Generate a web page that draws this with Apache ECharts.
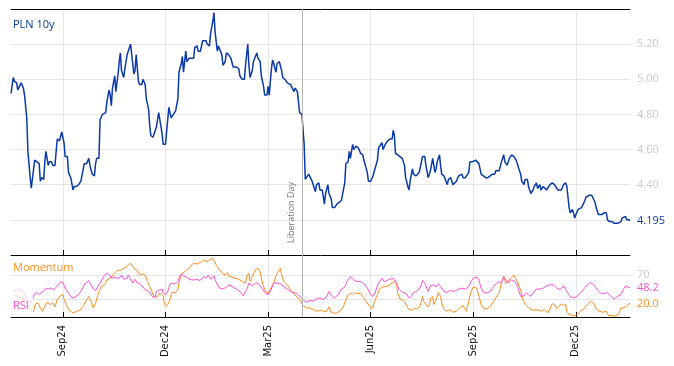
<!DOCTYPE html>
<html><head><meta charset="utf-8">
<script src="https://cdn.jsdelivr.net/npm/echarts@6/dist/echarts.min.js"></script>
<style>html,body{margin:0;padding:0;background:#fff}#c{width:674px;height:366px}</style>
</head><body><div id="c"></div>
<script>
// ---- data (day offsets from startDate) ----
const startDate = '2024-07-18';
const endDay = 549;
const plnDays = [0,2,3,5,6,9,11,12,14,15,17,18,19,21,23,25,26,27,29,30,31,33,34,36,37,39,41,43,44,45,47,48,50,51,53,55,56,58,60,62,63,65,67,69,70,72,74,75,76,78,79,81,82,84,85,87,88,89,90,92,93,95,96,97,98,100,101,103,104,106,107,109,110,111,113,114,116,117,119,120,122,123,124,126,127,129,131,132,134,135,137,138,140,142,144,146,148,149,151,152,153,155,156,158,160,162,163,165,166,168,170,171,173,174,176,177,179,180,181,183,184,185,187,188,190,191,193,195,197,198,200,202,203,205,207,208,210,211,212,214,215,216,218,219,221,222,224,225,227,228,229,231,232,233,235,236,238,240,241,243,244,245,248,249,251,252,254,255,256,258,260,261,262,264,265,267,268,270,271,273,274,276,278,279,281,282,284,285,287,289,291,293,294,296,297,299,300,301,303,304,306,308,310,312,313,316,317,319,321,322,325,326,327,329,330,332,334,336,338,339,340,341,343,345,347,349,350,352,353,354,356,357,359,360,362,364,365,367,368,370,371,372,374,375,376,377,378,380,381,382,384,385,387,388,390,392,393,395,397,398,400,401,403,404,406,407,409,412,413,415,417,419,421,423,425,427,429,430,431,433,435,437,438,440,442,444,446,448,450,452,453,455,456,458,459,461,462,463,464,466,467,469,470,472,473,475,476,478,480,482,483,485,486,488,490,492,493,494,495,496,498,499,500,501,503,504,506,507,509,510,511,513,515,516,518,519,521,522,524,526,528,529,531,533,535,536,538,539,541,542,543,545,546,548,549];
const plnValues = [4.92,5.01,4.99,4.98,4.94,4.98,4.95,4.91,4.78,4.59,4.44,4.38,4.38,4.54,4.53,4.52,4.42,4.44,4.43,4.53,4.59,4.51,4.53,4.53,4.51,4.51,4.66,4.65,4.64,4.70,4.64,4.56,4.56,4.47,4.44,4.37,4.39,4.39,4.40,4.42,4.43,4.52,4.52,4.55,4.51,4.46,4.45,4.52,4.55,4.55,4.77,4.80,4.79,4.81,4.87,4.94,4.91,4.85,4.95,5.02,4.93,5.03,5.10,5.15,5.05,5.01,5.06,5.14,5.14,5.20,5.20,5.03,5.05,5.14,4.99,4.97,4.97,5.00,4.97,4.89,4.83,4.74,4.68,4.67,4.69,4.73,4.81,4.77,4.69,4.63,4.63,4.64,4.84,4.78,4.80,4.82,4.89,5.04,5.09,5.13,5.04,5.16,5.10,5.12,5.12,5.12,5.18,5.19,5.16,5.16,5.22,5.22,5.22,5.20,5.19,5.26,5.33,5.38,5.27,5.16,5.19,5.20,5.14,5.08,5.10,5.15,5.14,5.12,5.07,5.06,5.07,5.06,5.02,5.00,5.00,5.08,5.20,5.08,5.01,5.05,5.10,5.11,5.15,5.12,5.10,5.02,4.96,4.91,4.91,4.96,4.91,5.06,5.11,5.09,5.04,5.09,5.10,5.05,5.01,5.00,5.01,4.98,4.97,4.96,4.93,4.95,4.93,4.87,4.81,4.80,4.63,4.43,4.44,4.46,4.45,4.42,4.40,4.36,4.40,4.41,4.37,4.37,4.29,4.35,4.40,4.35,4.32,4.27,4.27,4.29,4.30,4.31,4.31,4.41,4.52,4.53,4.59,4.55,4.63,4.60,4.62,4.61,4.58,4.57,4.54,4.47,4.42,4.42,4.45,4.46,4.54,4.61,4.61,4.64,4.60,4.63,4.65,4.66,4.66,4.71,4.68,4.58,4.57,4.56,4.55,4.51,4.44,4.39,4.37,4.42,4.49,4.46,4.45,4.45,4.47,4.53,4.56,4.56,4.51,4.44,4.43,4.48,4.55,4.51,4.47,4.49,4.53,4.57,4.51,4.46,4.45,4.44,4.40,4.43,4.44,4.40,4.41,4.42,4.45,4.45,4.46,4.44,4.44,4.43,4.47,4.53,4.53,4.54,4.54,4.52,4.46,4.45,4.44,4.44,4.45,4.46,4.46,4.48,4.47,4.48,4.53,4.57,4.53,4.51,4.55,4.57,4.56,4.54,4.50,4.46,4.42,4.40,4.43,4.43,4.39,4.35,4.34,4.37,4.39,4.41,4.38,4.40,4.37,4.39,4.38,4.37,4.37,4.40,4.41,4.40,4.40,4.37,4.37,4.37,4.40,4.41,4.39,4.33,4.27,4.24,4.26,4.26,4.21,4.23,4.26,4.26,4.27,4.28,4.31,4.33,4.34,4.34,4.34,4.33,4.30,4.27,4.23,4.22,4.23,4.24,4.24,4.20,4.19,4.19,4.18,4.18,4.18,4.17,4.19,4.21,4.20,4.22,4.20,4.20,4.195];

const rsiDays = [2,4,6,9,11,13,15,17,19,21,23,25,27,29,31,33,35,38,40,42,44,46,48,51,54,57,60,63,66,69,71,73,75,77,80,82,84,86,88,89,91,94,96,98,100,103,104,106,108,110,112,114,117,119,121,123,126,128,129,132,134,135,137,139,141,143,146,148,149,151,153,156,158,160,163,165,167,169,171,173,175,177,180,181,183,185,188,191,194,197,200,203,206,209,211,214,217,219,222,225,228,230,233,236,239,242,245,248,250,253,256,259,262,265,268,271,274,277,280,282,285,287,290,293,296,298,301,304,307,310,313,316,319,321,323,326,329,331,333,336,339,342,344,347,350,353,355,357,360,363,365,367,370,372,375,377,379,381,384,387,390,393,397,400,403,406,408,410,413,415,417,419,422,425,428,431,433,435,437,439,441,443,446,448,450,452,455,457,459,461,463,466,469,472,475,478,481,484,487,490,493,496,499,502,505,508,511,514,517,520,523,526,529,532,535,538,541,543,545,547,549];
const rsiValues = [42.4,45.2,44.1,46.4,42.4,34.2,26.0,23.4,28.8,38.7,40.8,37.0,40.8,42.4,48.0,46.4,48.0,45.2,49.7,53.5,58.9,57.2,48.0,39.8,31.6,33.2,37.0,45.2,56.3,60.5,53.5,46.4,44.1,50.7,58.9,67.1,71.5,72.7,68.3,64.5,66.1,64.5,64.5,69.9,62.8,64.5,69.9,62.8,56.3,62.8,56.3,56.3,49.7,45.2,44.1,39.8,32.6,34.2,42.4,45.2,46.4,39.8,37.0,42.4,54.6,56.3,55.1,58.9,64.5,71.5,68.3,66.1,62.8,61.7,61.7,62.8,60.5,62.8,67.1,64.5,69.9,62.8,68.3,61.7,53.5,48.0,46.4,49.7,53.5,49.7,46.4,42.4,35.4,45.2,56.3,51.8,56.3,56.3,49.7,40.8,37.0,42.4,56.3,56.3,55.1,50.7,46.4,42.4,40.8,39.8,34.2,28.8,24.3,27.6,26.0,29.9,31.6,28.8,34.2,42.4,34.2,31.6,37.0,46.4,49.7,58.9,67.1,61.7,58.9,58.9,55.1,48.0,37.0,34.2,40.8,56.3,64.5,58.9,60.5,62.8,64.5,56.3,46.4,40.8,39.8,31.6,34.2,40.8,42.4,49.7,60.5,56.3,42.4,51.8,53.5,49.7,55.1,50.7,42.4,40.8,44.1,42.4,46.4,48.0,46.4,50.7,58.9,64.5,66.1,61.7,48.0,40.8,39.8,42.4,50.7,56.3,58.9,56.3,67.1,61.7,56.3,61.7,60.5,56.3,46.4,34.2,35.4,39.8,37.0,34.2,39.8,46.4,46.4,48.0,51.8,53.5,53.5,48.0,45.2,51.8,42.4,34.2,31.6,34.2,39.8,46.4,53.5,57.2,53.5,45.2,39.8,38.7,40.8,34.2,29.9,34.2,37.0,45.2,51.8,49.7,48.2];

const momDays = [2,5,8,11,14,17,20,21,23,25,26,28,30,32,35,37,39,41,43,46,47,49,51,54,56,58,61,64,67,69,71,73,75,78,80,83,85,88,91,93,95,97,100,102,104,106,108,110,112,114,117,119,121,123,126,128,130,132,135,136,138,140,142,143,146,148,149,151,154,156,158,160,162,165,167,169,171,174,176,178,180,182,184,185,188,190,192,193,196,199,202,205,208,209,211,212,214,215,217,219,221,223,225,228,230,233,235,237,239,240,242,245,248,250,253,256,259,262,265,268,271,274,277,280,282,284,286,288,290,293,295,297,299,301,303,305,307,310,312,315,318,320,322,325,327,329,332,335,338,340,342,343,345,347,349,351,353,356,358,360,363,365,366,369,371,372,374,375,377,379,381,382,384,386,389,392,395,398,401,404,406,408,410,413,415,417,419,422,425,428,431,433,435,437,439,441,443,446,447,449,452,454,457,460,464,467,470,473,476,478,480,482,484,486,488,490,492,493,495,498,501,503,505,508,511,514,515,517,519,522,525,528,530,533,536,539,541,543,546,548,549];
const momValues = [34.2,37.0,28.8,31.6,23.4,12.3,9.5,18.9,23.4,20.6,15.1,9.5,17.8,24.3,20.6,23.4,16.8,28.8,34.2,37.0,29.9,20.6,12.3,7.9,6.9,9.5,11.2,17.8,28.8,34.2,26.0,15.1,23.4,42.4,50.7,53.5,61.7,64.5,71.5,75.3,78.1,77.0,80.9,82.6,86.3,89.1,84.7,79.3,77.0,69.9,71.5,69.9,58.9,50.7,37.0,31.6,34.2,39.8,34.2,20.6,17.8,23.4,37.0,40.8,40.8,45.2,56.3,71.5,75.3,78.1,80.9,86.3,89.1,88.0,90.1,91.8,94.6,91.8,94.6,97.4,94.6,86.3,80.9,80.9,71.5,69.9,73.7,68.3,66.1,64.5,62.8,58.9,56.3,67.1,72.7,58.9,67.1,69.9,79.3,80.9,75.3,56.3,45.2,38.2,46.4,56.3,68.3,75.3,80.9,69.9,58.9,53.5,45.2,39.8,34.2,28.8,18.9,15.1,15.1,12.3,9.5,11.2,9.5,9.5,16.8,7.9,6.9,5.8,7.9,12.3,17.8,28.8,37.0,39.8,37.0,40.8,38.7,39.8,34.2,26.0,17.8,13.5,23.4,37.0,46.4,49.7,50.7,51.8,56.3,58.9,56.3,39.8,29.9,28.8,26.0,17.8,12.3,11.2,15.1,13.5,18.9,34.2,26.0,17.8,18.9,29.9,34.2,20.6,28.8,40.8,34.2,23.4,13.5,9.5,12.3,7.9,9.5,15.1,18.9,9.5,26.0,42.4,49.7,48.0,34.2,20.6,15.1,13.5,16.8,26.0,35.4,39.8,57.2,67.1,55.1,58.9,64.5,69.9,67.1,58.9,45.2,28.8,18.9,13.5,11.2,12.3,9.5,12.3,6.9,13.5,22.2,20.6,13.5,17.8,22.2,18.9,20.6,9.5,4.1,2.5,2.5,5.8,9.5,13.5,20.6,26.0,28.8,22.2,13.5,9.5,7.9,9.5,2.5,2.5,1.3,4.1,15.1,15.1,17.8,22.2,22.2];

const tickDates = ['2024-09-02','2024-12-02','2025-03-03','2025-06-02','2025-09-01','2025-12-01'];
const tickLabels = ['Sep24','Dec24','Mar25','Jun25','Sep25','Dec25'];
const plnRange = [4.0, 5.4];
const plnTickStep = 0.2;
const plnShownLabels = [4.4, 4.6, 4.8, 5.0, 5.2];
const oscRange = [0, 103];
const oscGrid = [30, 70];
const oscShownLabels = [70];
const eventDate = '2025-04-02';
const eventLabel = 'Liberation Day';
const lastLabels = { pln: '4.195', rsi: '48.2', mom: '20.0' };
const panelTitles = { pln: 'PLN 10y', mom: 'Momentum', rsi: 'RSI' };

// ---- build ----
const DAY = 86400000;
const t0 = Date.parse(startDate + 'T00:00:00Z');
const dayOf = s => Math.round((Date.parse(s + 'T00:00:00Z') - t0) / DAY);
const pairs = (days, vals) => days.map((d, i) => [d, vals[i]]);
const tickDays = tickDates.map(dayOf);
const eventDay = dayOf(eventDate);
const BLUE = '#0a3aa8', ORANGE = '#ff8c1a', PINK = '#ff4fd6';
const GRIDC = '#e6e6e6';
const LBL = '#c9c9c9';
const FONT = 'Open Sans';

const chart = echarts.init(document.getElementById('c'), null, { renderer: 'canvas' });
const xBase = { type: 'value', min: 0, max: endDay };
const option = {
  animation: false,
  backgroundColor: '#fff',
  grid: [
    { left: 11, right: 44, top: 9, height: 246 },
    { left: 11, right: 44, top: 255, height: 62 }
  ],
  xAxis: [
    Object.assign({ gridIndex: 0, position: 'bottom',
      axisLine: { show: true, onZero: false, lineStyle: { color: '#000', width: 1 } },
      axisTick: { show: true, inside: true, length: 5, customValues: tickDays, lineStyle: { color: '#000' } },
      axisLabel: { show: false, customValues: tickDays },
      splitLine: { show: true, lineStyle: { color: GRIDC, width: 1 } } }, xBase),
    Object.assign({ gridIndex: 0, position: 'top',
      axisLine: { show: true, onZero: false, lineStyle: { color: '#000', width: 1 } },
      axisTick: { show: false }, axisLabel: { show: false }, splitLine: { show: false } }, xBase),
    Object.assign({ gridIndex: 1, position: 'bottom',
      axisLine: { show: true, onZero: false, lineStyle: { color: '#000', width: 1 } },
      axisTick: { show: true, inside: true, length: 5, customValues: tickDays, lineStyle: { color: '#000' } },
      axisLabel: { show: true, customValues: tickDays, rotate: 90, margin: 8, fontSize: 10,
        fontFamily: 'DejaVu Sans', color: '#111', hideOverlap: false,
        formatter: v => { const i = tickDays.indexOf(v); return i >= 0 ? tickLabels[i] : ''; } },
      splitLine: { show: true, lineStyle: { color: GRIDC, width: 1 } } }, xBase)
  ],
  yAxis: [
    { gridIndex: 0, type: 'value', position: 'right', min: plnRange[0], max: plnRange[1], interval: plnTickStep,
      axisLine: { show: false }, axisTick: { show: false },
      axisLabel: { color: LBL, fontSize: 11, fontFamily: FONT, margin: 7,
        formatter: v => plnShownLabels.some(s => Math.abs(s - v) < 1e-6) ? v.toFixed(2) : '' },
      splitLine: { show: true, lineStyle: { color: GRIDC, width: 1 } } },
    { gridIndex: 1, type: 'value', position: 'right', min: oscRange[0], max: oscRange[1],
      axisLine: { show: false },
      axisTick: { show: false, customValues: oscGrid },
      axisLabel: { customValues: oscShownLabels, color: LBL, fontSize: 11, fontFamily: FONT, margin: 7 },
      splitLine: { show: true, lineStyle: { color: GRIDC, width: 1 } } }
  ],
  series: [
    { name: panelTitles.pln, type: 'line', xAxisIndex: 0, yAxisIndex: 0, data: pairs(plnDays, plnValues),
      showSymbol: false, symbol: 'none', lineStyle: { color: BLUE, width: 1.5 }, itemStyle: { color: BLUE }, z: 3,
      endLabel: { show: true, formatter: () => lastLabels.pln, color: BLUE, fontSize: 11, fontFamily: FONT, distance: 7 },
      markLine: { silent: true, symbol: ['none', 'none'], animation: false,
        lineStyle: { color: '#b5b5b5', width: 1, type: 'solid' },
        label: { show: true, formatter: eventLabel, position: 'insideStartTop', color: '#777', fontSize: 9, fontFamily: FONT, distance: [12, 6] },
        data: [{ xAxis: eventDay }] } },
    { name: panelTitles.mom, type: 'line', xAxisIndex: 2, yAxisIndex: 1, data: pairs(momDays, momValues),
      showSymbol: false, symbol: 'none', lineStyle: { color: ORANGE, width: 1 }, itemStyle: { color: ORANGE }, z: 3,
      endLabel: { show: true, formatter: () => lastLabels.mom, color: ORANGE, fontSize: 11, fontFamily: FONT, distance: 7 } },
    { name: panelTitles.rsi, type: 'line', xAxisIndex: 2, yAxisIndex: 1, data: pairs(rsiDays, rsiValues),
      showSymbol: false, symbol: 'none', lineStyle: { color: PINK, width: 1 }, itemStyle: { color: PINK }, z: 4,
      endLabel: { show: true, formatter: () => lastLabels.rsi, color: PINK, fontSize: 11, fontFamily: FONT, distance: 7 },
      markLine: { silent: true, symbol: ['none', 'none'], animation: false,
        lineStyle: { color: '#b5b5b5', width: 1, type: 'solid' }, label: { show: false },
        data: [{ xAxis: eventDay }] } }
  ],
  graphic: [
    { type: 'text', left: 13, top: 19, z: 100, style: { text: panelTitles.pln, fill: BLUE, fontSize: 11, fontFamily: FONT } },
    { type: 'text', left: 13, top: 262, z: 100, style: { text: panelTitles.mom, fill: ORANGE, fontSize: 11, fontFamily: FONT } },
    { type: 'rect', left: 11, top: 286, z: 99, shape: { width: 22, height: 28 }, style: { fill: 'rgba(255,255,255,0.7)' } },
    { type: 'text', left: 13, top: 300, z: 100, style: { text: panelTitles.rsi, fill: PINK, fontSize: 11, fontFamily: FONT } }
  ]
};
chart.setOption(option);
</script></body></html>
